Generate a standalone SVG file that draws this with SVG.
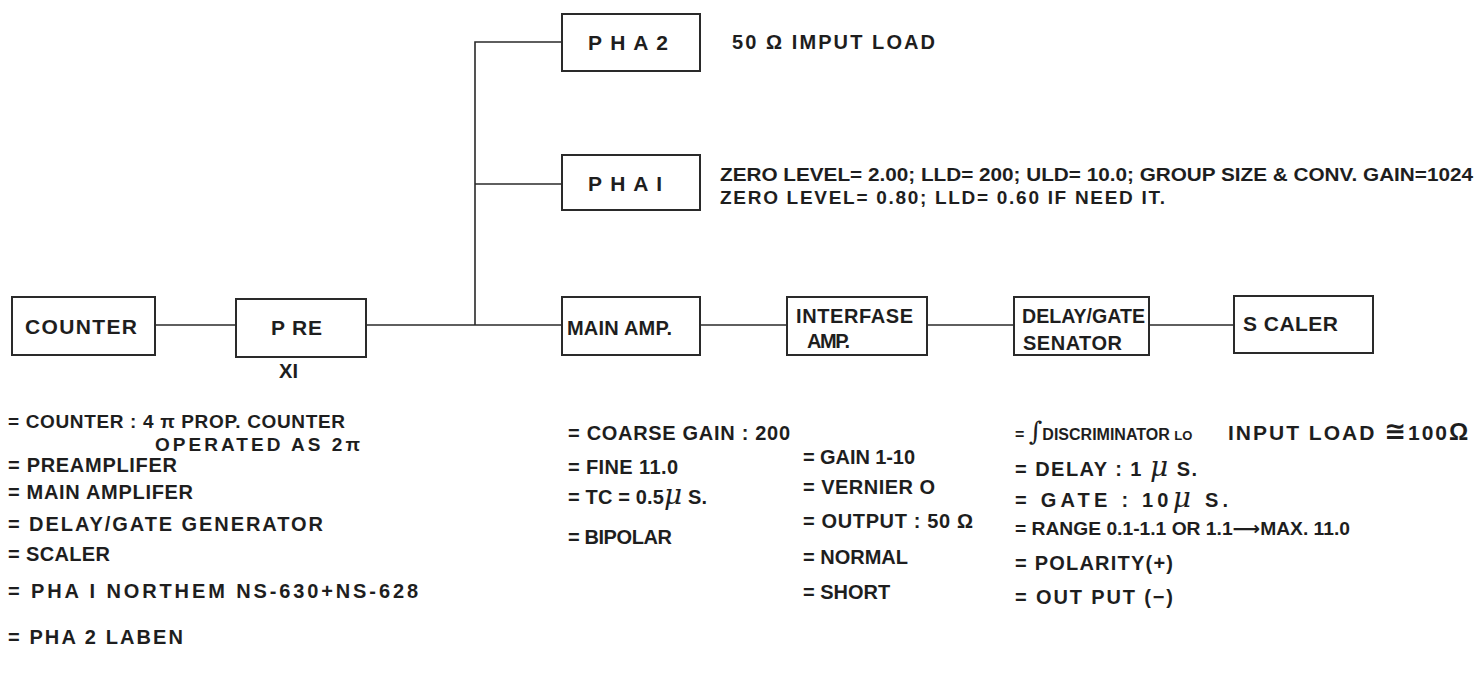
<svg xmlns="http://www.w3.org/2000/svg" width="1478" height="681" viewBox="0 0 1478 681">
<style>
.bg{fill:#ffffff}
.box{fill:none;stroke:#2a2a2a;stroke-width:2}
.wire{fill:none;stroke:#2a2a2a;stroke-width:1.6}
text{font-family:"Liberation Sans","DejaVu Sans",sans-serif;font-weight:bold;fill:#1e1e1e;font-size:20px}
.lbl{font-size:21px}
.sm{font-size:19px}
.disc{font-size:16px}
.load{font-size:21px;letter-spacing:2px}
.mu{font-family:"DejaVu Serif","Liberation Serif",serif;font-style:italic;font-weight:normal;font-size:28px}
.int{font-family:"DejaVu Serif","Liberation Serif",serif;font-style:italic;font-weight:normal;font-size:26px}
</style>
<rect class="bg" x="0" y="0" width="1478" height="681"/>

<g id="connectors">
  <line class="wire" x1="155" y1="325" x2="236" y2="325"/>
  <line class="wire" x1="366" y1="325" x2="562" y2="325"/>
  <polyline class="wire" points="475,325 475,42 562,42"/>
  <line class="wire" x1="475" y1="184" x2="562" y2="184"/>
  <line class="wire" x1="700" y1="325" x2="787" y2="325"/>
  <line class="wire" x1="927" y1="325" x2="1014" y2="325"/>
  <line class="wire" x1="1149" y1="325" x2="1234" y2="325"/>
</g>

<g id="counter">
  <rect class="box" x="12" y="297" width="143" height="58"/>
  <text class="lbl" x="25" y="334" textLength="112" lengthAdjust="spacing">COUNTER</text>
</g>
<g id="pre">
  <rect class="box" x="236" y="299" width="130" height="58"/>
  <text class="lbl" x="271" y="335" textLength="51" lengthAdjust="spacing">P RE</text>
  <text x="279" y="378" textLength="19" lengthAdjust="spacing">XI</text>
</g>
<g id="pha2">
  <rect class="box" x="562" y="14" width="138" height="57"/>
  <text class="lbl" x="588" y="50" textLength="80" lengthAdjust="spacing">P H A 2</text>
  <text x="732" y="49" textLength="203" lengthAdjust="spacing">50 Ω IMPUT  LOAD</text>
</g>
<g id="pha1">
  <rect class="box" x="562" y="155" width="138" height="55"/>
  <text class="lbl" x="588" y="191" textLength="74" lengthAdjust="spacing">P H A I</text>
  <text class="sm" x="720" y="181" textLength="753" lengthAdjust="spacingAndGlyphs">ZERO LEVEL= 2.00; LLD= 200; ULD= 10.0; GROUP SIZE &amp; CONV. GAIN=1024</text>
  <text class="sm" x="720" y="204" textLength="445" lengthAdjust="spacing">ZERO LEVEL= 0.80; LLD= 0.60 IF NEED IT.</text>
</g>
<g id="mainamp">
  <rect class="box" x="562" y="297" width="138" height="58"/>
  <text x="567" y="335" textLength="105" lengthAdjust="spacing">MAIN  AMP.</text>
</g>
<g id="interfase">
  <rect class="box" x="787" y="297" width="140" height="58"/>
  <text x="796" y="323" textLength="117" lengthAdjust="spacing">INTERFASE</text>
  <text x="807" y="348" textLength="43" lengthAdjust="spacing">AMP.</text>
</g>
<g id="delaygate">
  <rect class="box" x="1014" y="297" width="135" height="58"/>
  <text x="1022" y="323" textLength="123" lengthAdjust="spacingAndGlyphs">DELAY/GATE</text>
  <text x="1023" y="350" textLength="99" lengthAdjust="spacing">SENATOR</text>
</g>
<g id="scaler">
  <rect class="box" x="1234" y="296" width="139" height="57"/>
  <text class="lbl" x="1243" y="331" textLength="95" lengthAdjust="spacing">S CALER</text>
</g>

<g id="notes-left">
  <text class="sm" x="8" y="428" textLength="337" lengthAdjust="spacing">= COUNTER  : 4 π PROP. COUNTER</text>
  <text class="sm" x="155" y="451" textLength="205" lengthAdjust="spacing">OPERATED AS 2π</text>
  <text x="8" y="472" textLength="169" lengthAdjust="spacing">= PREAMPLIFER</text>
  <text x="8" y="499" textLength="185" lengthAdjust="spacing">= MAIN AMPLIFER</text>
  <text x="8" y="531" textLength="315" lengthAdjust="spacing">= DELAY/GATE GENERATOR</text>
  <text x="8" y="561" textLength="102" lengthAdjust="spacing">= SCALER</text>
  <text x="8" y="598" textLength="410" lengthAdjust="spacing">= PHA I NORTHEM NS-630+NS-628</text>
  <text x="8" y="644" textLength="175" lengthAdjust="spacing">= PHA 2 LABEN</text>
</g>

<g id="notes-mid">
  <text x="568" y="440" textLength="222" lengthAdjust="spacing">= COARSE GAIN : 200</text>
  <text x="568" y="474" textLength="110" lengthAdjust="spacing">= FINE 11.0</text>
  <text x="568" y="504" textLength="139" lengthAdjust="spacing">= TC = 0.5<tspan class="mu">μ</tspan> S.</text>
  <text x="568" y="544" textLength="104" lengthAdjust="spacing">= BIPOLAR</text>
  <text x="803" y="464" textLength="112" lengthAdjust="spacing">= GAIN 1-10</text>
  <text x="803" y="494" textLength="132" lengthAdjust="spacing">= VERNIER O</text>
  <text x="803" y="528" textLength="170" lengthAdjust="spacing">= OUTPUT : 50 Ω</text>
  <text x="803" y="564">= NORMAL</text>
  <text x="803" y="599">= SHORT</text>
</g>

<g id="notes-right">
  <text class="disc" x="1015" y="440">= <tspan class="int">∫</tspan>DISCRIMINATOR <tspan font-size="13">LO</tspan></text>
  <text class="load" x="1228" y="440">INPUT  LOAD <tspan font-size="26">≅</tspan>100<tspan font-size="24">Ω</tspan></text>
  <text x="1015" y="476" textLength="182" lengthAdjust="spacing">= DELAY : 1 <tspan class="mu">μ</tspan> S.</text>
  <text x="1015" y="507" textLength="213" lengthAdjust="spacing">= GATE  : 10<tspan class="mu">μ</tspan> S.</text>
  <text class="sm" x="1015" y="535" textLength="335" lengthAdjust="spacingAndGlyphs">= RANGE 0.1-1.1 OR 1.1⟶MAX. 11.0</text>
  <text x="1015" y="570" textLength="158" lengthAdjust="spacing">= POLARITY(+)</text>
  <text x="1015" y="604" textLength="158" lengthAdjust="spacing">= OUT PUT (−)</text>
</g>
</svg>
